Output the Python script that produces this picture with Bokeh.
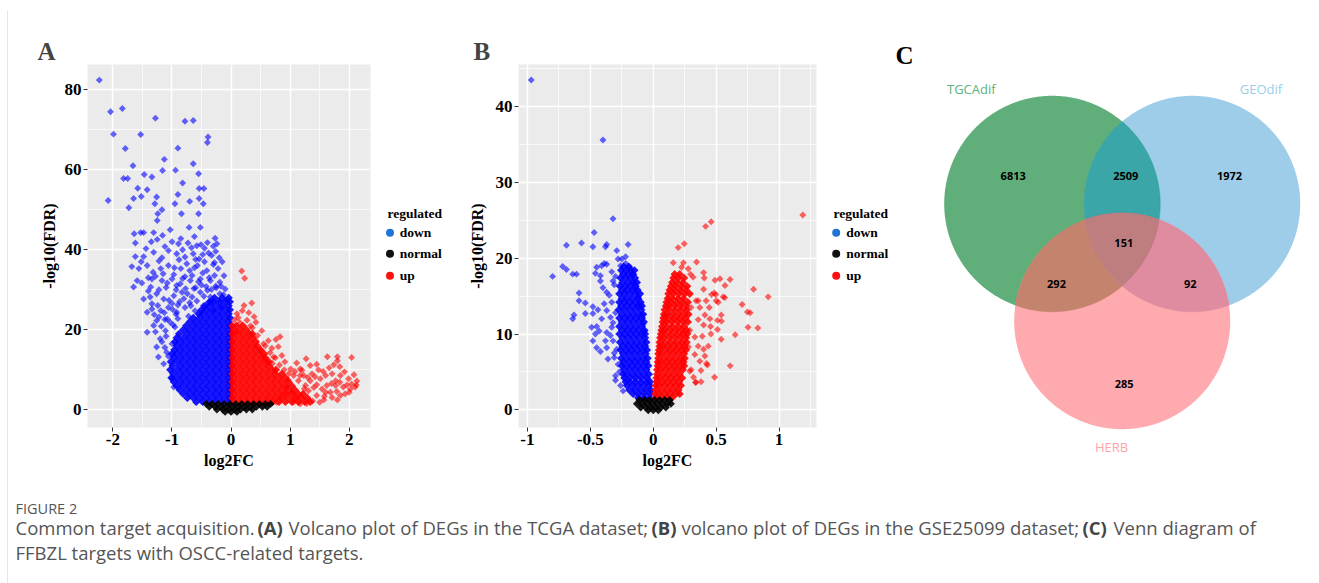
import numpy as np
from bokeh.plotting import figure
from bokeh.layouts import row, column
from bokeh.models import Range1d, FixedTicker, CustomJSTickFormatter
from bokeh.core.properties import value
from bokeh.embed import file_html
from bokeh.resources import INLINE

SERIF = "Liberation Serif"
SANS = "Open Sans"

# ======================= Panel A (TCGA) =======================
A_xticks = [-2, -1, 0, 1, 2]
A_yticks = [0, 20, 40, 60, 80]

A_down_x = [-2.23,-2.04,-1.84,-1.99,-1.79,-2.08,-1.73,-1.66,-1.75,-1.82,-1.65,-1.53,-1.58,-1.52,-1.47,
            -1.42,-1.34,-1.28,-1.26,-1.29,-1.24,-1.25,-1.17,-1.13,-1.16,-0.94,-0.90,-0.78,-0.64,-0.64,
            -0.82,-0.90,-0.95,-0.84,-0.70,-0.55,-0.54,-0.54,-0.47,-0.46,-0.55,-0.39,-0.40,
            -1.64,-1.53,-1.48,-1.62,-1.31,-1.16,-1.03,-0.71,-0.62,-0.52,-0.27,-0.24,-1.35,-1.00,-0.89,
            -0.73,-0.51,-0.45,-0.38,-1.62,-1.48,-1.31,-1.17,-1.06,-0.92,-0.78,-0.64,-0.54,-0.33,-1.68,
            -1.56,-1.42,-1.32,-1.19,-1.06,-0.85,-0.70,-0.57,-0.41,-0.22,-1.59,-1.51,-1.34,-1.17,-1.00,
            -0.86,-0.69,-0.52,-0.35,-0.19,-1.48,-1.37,-1.26,-1.14,-0.97,-0.83,-0.66,-0.52,-0.35,-0.19,
            -1.34,-1.19,-1.06,-0.92,-0.78,-0.61,-0.47,-0.30,-0.16,-1.42,-1.31,-1.26,-1.20,-1.11,-1.03,
            -1.26,-1.23,-1.14,-1.09,-1.00,
            -1.65,-1.42,-1.36,-1.34,-1.22,-0.97,-1.00,-0.12,-0.10,-0.15,-0.28,-0.25,-0.08,-0.42,-0.60,
            -0.77,-0.93,-1.10,-0.45,-0.62,-0.88,-1.22,-1.40,-0.97,-0.78,-0.30,-0.58,-0.82,-0.70,-0.87,
            -1.00,-0.90,-1.12,-0.95,-0.40,-0.26,-0.58,-0.72]
A_down_y = [82.4,74.5,75.3,68.9,65.3,52.3,50.5,61.0,57.8,57.8,52.8,68.8,55.4,53.3,58.8,
            55.0,58.2,72.9,53.2,51.5,49.0,47.3,50.0,62.6,59.8,59.9,65.4,72.1,72.3,61.5,
            56.7,53.8,51.5,49.0,52.1,59.0,55.3,52.8,51.5,55.3,49.0,68.2,66.8,
            44.0,44.3,44.3,41.7,44.3,43.6,45.0,45.6,43.3,45.6,42.9,41.5,42.0,42.0,41.5,
            41.7,41.3,40.4,39.2,38.3,38.3,39.4,38.0,39.8,39.0,38.2,39.0,37.7,38.6,35.8,
            35.3,36.1,34.4,35.3,36.1,35.3,34.8,36.1,34.8,35.3,32.3,31.7,32.7,32.3,32.7,
            31.5,32.3,32.7,32.3,31.9,27.7,28.2,29.0,27.7,28.5,29.4,28.2,29.4,28.2,29.0,
            25.2,24.8,25.6,24.4,25.6,24.8,26.0,24.8,25.6,19.4,21.1,22.3,17.8,19.8,21.9,
            15.7,13.2,11.5,14.4,16.5,
            30.7,24.4,30.7,26.5,23.2,5.7,7.8,33.5,30.2,37.0,36.8,30.5,27.5,30.8,30.5,
            30.3,30.0,30.6,37.0,35.5,37.5,37.2,33.0,33.8,33.3,40.9,41.0,40.0,26.8,27.0,
            26.6,22.8,22.6,20.7,29.9,30.9,27.2,23.4]

# semi-dense zone of down-regulated genes (y 13-43)
A_down_mid_x = [-1.28,-1.18,-1.08,-0.98,-0.93,-0.99,-1.13,-1.24,-1.05,-0.90,
                -0.80,-0.68,-0.74,-0.63,-0.50,-0.46,-0.38,-0.33,-0.22,-0.17,
                -0.13,-0.28,-0.37,-0.48,-0.55,-0.66,-0.82,-0.92,-1.08,-1.22,
                -1.28,-1.15,-0.96,-0.75,-0.60,-0.48,-0.30,-0.20,-0.26,-0.40,
                -0.67,-0.85,-1.12,-1.25,-1.44,-1.52,-1.40,-1.30,-1.17,-1.12,
                -1.06,-1.10]
A_down_mid_y = [19.5,20.9,22.7,21.2,23.9,25.1,24.3,26.1,27.4,26.2,
                27.8,26.0,29.0,30.3,31.2,28.4,26.9,30.1,27.3,30.9,
                28.8,33.6,33.0,34.2,32.0,33.6,32.8,31.1,31.7,30.0,
                33.4,34.0,35.5,36.5,37.6,38.8,36.3,38.0,39.6,41.8,
                40.5,42.8,40.8,42.6,40.3,37.0,29.7,23.8,17.0,15.6,
                13.4,18.4]

# dense core of down-regulated genes: one y value per row, x values per row
A_down_core_rows_y = [2, 3, 4, 5, 6, 7, 8, 9, 10, 11, 12, 13, 14, 15, 16, 17, 18, 19, 20,
                      21, 22, 23, 24, 25, 26, 27, 28]
A_down_core_rows_x = [
    [-0.59,-0.48,-0.37,-0.26,-0.15,-0.04],
    [-0.74,-0.64,-0.53,-0.42,-0.31,-0.20,-0.09,-0.02],
    [-0.81,-0.70,-0.59,-0.48,-0.37,-0.26,-0.15,-0.04],
    [-0.87,-0.75,-0.64,-0.53,-0.42,-0.31,-0.20,-0.09,-0.02],
    [-0.92,-0.81,-0.70,-0.59,-0.48,-0.37,-0.26,-0.15,-0.04],
    [-0.97,-0.86,-0.75,-0.64,-0.53,-0.42,-0.31,-0.20,-0.09,-0.02],
    [-1.01,-0.92,-0.81,-0.70,-0.59,-0.48,-0.37,-0.26,-0.15,-0.04],
    [-0.98,-0.86,-0.75,-0.64,-0.53,-0.42,-0.31,-0.20,-0.09,-0.02],
    [-1.03,-0.92,-0.81,-0.70,-0.59,-0.48,-0.37,-0.26,-0.15,-0.04],
    [-0.99,-0.86,-0.75,-0.64,-0.53,-0.42,-0.31,-0.20,-0.09,-0.02],
    [-1.02,-0.92,-0.81,-0.70,-0.59,-0.48,-0.37,-0.26,-0.15,-0.04],
    [-0.97,-0.86,-0.75,-0.64,-0.53,-0.42,-0.31,-0.20,-0.09,-0.02],
    [-1.00,-0.92,-0.81,-0.70,-0.59,-0.48,-0.37,-0.26,-0.15,-0.04],
    [-0.96,-0.86,-0.75,-0.64,-0.53,-0.42,-0.31,-0.20,-0.09,-0.02],
    [-0.92,-0.81,-0.70,-0.59,-0.48,-0.37,-0.26,-0.15,-0.04],
    [-0.95,-0.86,-0.75,-0.64,-0.53,-0.42,-0.31,-0.20,-0.09,-0.02],
    [-0.92,-0.81,-0.70,-0.59,-0.48,-0.37,-0.26,-0.15,-0.04],
    [-0.88,-0.75,-0.64,-0.53,-0.42,-0.31,-0.20,-0.09,-0.02],
    [-0.81,-0.70,-0.59,-0.48,-0.37,-0.26,-0.15,-0.04],
    [-0.76,-0.64,-0.53,-0.42,-0.31,-0.20,-0.09,-0.02],
    [-0.70,-0.59,-0.48,-0.37,-0.26,-0.15,-0.04],
    [-0.64,-0.53,-0.42,-0.31,-0.20,-0.09,-0.02],
    [-0.55,-0.48,-0.37,-0.26,-0.15,-0.04],
    [-0.50,-0.42,-0.31,-0.20,-0.09,-0.02],
    [-0.44,-0.37,-0.26,-0.15,-0.04],
    [-0.36,-0.31,-0.20,-0.09,-0.02],
    [-0.28,-0.15,-0.04],
]

A_up_x = [0.18,0.23,0.35,0.22,0.19,0.30,0.39,0.42,0.09,0.83,0.76,0.63,0.69,0.80,0.55,
          0.49,0.72,0.86,0.91,1.11,1.27,1.34,1.45,1.63,1.80,1.80,2.04,1.84,1.01,1.17,
          1.23,1.37,1.51,1.60,1.71,1.77,1.99,2.13,2.10,2.02,1.90,1.79,1.85,1.93,1.71,
          1.57,1.45,1.28,1.17,1.11,1.62,1.68,1.45,1.34,1.26,1.14,1.06,0.97,1.17,1.31,
          1.40,1.54,0.94,1.03,0.91,0.83,0.66,0.77,1.77,2.04,1.85,1.60,1.06,0.06,0.12,
          0.15,0.27,0.33,0.10,
          0.45,0.52,0.36,0.58,0.66,0.75,0.70,0.82,0.90,0.98,1.08,1.20,1.30,1.42,1.48,
          1.56,1.66,1.74,1.92,2.08,1.96,1.84,1.70,1.58,1.50,1.38,1.80,2.00,2.12,1.24]
A_up_y = [34.7,32.9,26.7,26.1,24.8,24.3,23.3,21.9,19.6,18.3,17.6,17.3,15.4,15.8,16.5,
          14.8,13.2,13.6,12.0,11.7,12.8,11.1,11.4,13.3,13.3,12.3,13.1,10.8,10.2,10.2,
          8.6,9.0,7.8,8.6,9.0,7.3,7.8,7.2,5.7,5.2,5.7,4.6,3.6,4.0,3.1,
          2.5,3.6,1.6,1.5,3.1,6.1,4.4,6.3,7.3,6.1,7.3,8.6,7.5,8.6,4.8,
          5.6,5.2,5.7,4.4,4.0,3.1,1.9,1.9,6.1,6.5,8.6,4.4,1.9,22.5,23.0,
          21.8,22.4,21.0,24.0,
          18.6,19.8,20.5,16.0,14.3,13.0,11.6,11.2,10.0,9.1,9.6,9.9,8.1,8.3,10.0,
          9.6,10.5,11.3,9.5,8.8,6.2,6.9,6.6,3.4,1.9,2.2,2.5,4.4,6.2,5.3]

A_up_core_rows_y = [2, 3, 4, 5, 6, 7, 8, 9, 10, 11, 12, 13, 14, 15, 16, 17, 18, 19, 20, 21]
A_up_core_rows_x = [
    [0.04,0.15,0.26,0.37,0.48,0.59,0.70,0.81,0.92,1.03,1.14,1.25,1.34],
    [0.02,0.09,0.20,0.31,0.42,0.53,0.64,0.75,0.86,0.97,1.08,1.19,1.29],
    [0.04,0.15,0.26,0.37,0.48,0.59,0.70,0.81,0.92,1.03,1.14,1.22],
    [0.02,0.09,0.20,0.31,0.42,0.53,0.64,0.75,0.86,0.97,1.08],
    [0.04,0.15,0.26,0.37,0.48,0.59,0.70,0.81,0.92,1.03],
    [0.02,0.09,0.20,0.31,0.42,0.53,0.64,0.75,0.86,0.97],
    [0.04,0.15,0.26,0.37,0.48,0.59,0.70,0.81,0.92],
    [0.02,0.09,0.20,0.31,0.42,0.53,0.64,0.75,0.86],
    [0.04,0.15,0.26,0.37,0.48,0.59,0.70,0.76],
    [0.02,0.09,0.20,0.31,0.42,0.53,0.64],
    [0.04,0.15,0.26,0.37,0.48,0.59,0.64],
    [0.02,0.09,0.20,0.31,0.42,0.53,0.58],
    [0.04,0.15,0.26,0.37,0.48,0.56],
    [0.02,0.09,0.20,0.31,0.42,0.50],
    [0.04,0.15,0.26,0.37,0.44],
    [0.02,0.09,0.20,0.31,0.42],
    [0.04,0.15,0.26,0.37],
    [0.02,0.09,0.20,0.31,0.36],
    [0.04,0.15,0.26],
    [0.02,0.09,0.20],
]

A_normal_rows_y = [1.5, 0.8, 0.1, -0.5]
A_normal_rows_x = [
    [-0.42,-0.32,-0.22,-0.12,-0.02,0.08,0.18,0.28,0.38,0.48,0.58,0.67],
    [-0.37,-0.27,-0.17,-0.07,0.03,0.13,0.23,0.33,0.43,0.53,0.61],
    [-0.24,-0.14,-0.04,0.06,0.16,0.26,0.36],
    [-0.10,0.00,0.10],
]

# ======================= Panel B (GSE25099) =======================
B_xticks = [-1, -0.5, 0, 0.5, 1]
B_yticks = [0, 10, 20, 30, 40]

B_down_x = [-0.97,-0.40,-0.32,-0.47,-0.69,-0.57,-0.48,-0.38,-0.37,-0.20,-0.29,-0.28,-0.25,-0.22,-0.72,
            -0.69,-0.64,-0.61,-0.80,-0.45,-0.41,-0.39,-0.37,-0.46,-0.42,-0.42,-0.40,-0.37,-0.35,-0.32,
            -0.59,-0.59,-0.54,-0.48,-0.44,-0.48,-0.54,-0.63,-0.64,-0.39,-0.37,-0.34,-0.41,-0.49,-0.45,
            -0.46,-0.43,-0.48,-0.45,-0.42,-0.37,-0.36,-0.31,-0.30,-0.30,-0.34,-0.38,-0.32,-0.33,-0.37,
            -0.31,-0.33,-0.30,-0.32,-0.29,-0.31,-0.28,-0.27,-0.26,-0.24,-0.33,-0.30,-0.26,-0.22,-0.19,
            -0.17,-0.15,-0.14,-0.12,-0.11,-0.09,-0.08,-0.07]
B_down_y = [43.5,35.6,25.2,23.4,21.7,22.0,21.5,21.5,21.8,21.8,21.0,19.9,19.9,20.2,18.9,
            18.5,17.9,17.9,17.6,18.8,19.0,19.3,19.2,18.0,17.7,17.0,16.1,15.5,15.1,17.0,
            15.4,14.4,14.1,13.6,13.2,12.7,12.7,12.5,12.0,14.0,13.1,12.2,12.0,10.9,11.0,
            10.0,10.4,9.1,8.2,7.7,8.2,6.7,6.9,4.5,3.9,9.8,9.1,9.1,10.9,10.2,
            16.5,14.2,12.8,11.5,8.0,7.5,6.0,5.0,3.2,2.5,18.2,17.6,19.0,19.3,18.8,
            17.9,16.8,15.9,14.9,13.8,12.5,11.3,10.3]

B_down_core_rows_y = [1.6, 2.1, 2.6, 3.2, 3.7, 4.2, 4.7, 5.3, 5.8, 6.3, 6.8, 7.4, 7.9, 8.4, 8.9,
                      9.5, 10.0, 10.5, 11.0, 11.6, 12.1, 12.6, 13.2, 13.7, 14.2, 14.7, 15.3,
                      15.8, 16.3, 16.8, 17.4, 17.9, 18.4, 18.9]
B_down_core_rows_x = [
    [-0.12,-0.075,-0.03],
    [-0.16,-0.115,-0.07,-0.025],
    [-0.19,-0.145,-0.10,-0.055,-0.02],
    [-0.21,-0.165,-0.12,-0.075,-0.03],
    [-0.22,-0.19,-0.145,-0.10,-0.055,-0.025],
    [-0.23,-0.185,-0.14,-0.095,-0.05],
    [-0.24,-0.21,-0.165,-0.12,-0.075,-0.035],
    [-0.235,-0.19,-0.145,-0.10,-0.055],
    [-0.25,-0.21,-0.165,-0.12,-0.075,-0.04],
    [-0.24,-0.19,-0.145,-0.10,-0.055],
    [-0.255,-0.215,-0.17,-0.125,-0.08,-0.045],
    [-0.24,-0.195,-0.15,-0.105,-0.06],
    [-0.26,-0.215,-0.17,-0.125,-0.08,-0.05],
    [-0.245,-0.20,-0.155,-0.11,-0.065],
    [-0.265,-0.22,-0.175,-0.13,-0.085,-0.055],
    [-0.245,-0.20,-0.155,-0.11,-0.065],
    [-0.27,-0.225,-0.18,-0.135,-0.09,-0.065],
    [-0.25,-0.205,-0.16,-0.115,-0.07],
    [-0.27,-0.225,-0.18,-0.135,-0.09],
    [-0.25,-0.205,-0.16,-0.115,-0.075],
    [-0.27,-0.225,-0.18,-0.135,-0.09],
    [-0.25,-0.205,-0.16,-0.115,-0.08],
    [-0.275,-0.23,-0.185,-0.14,-0.095],
    [-0.255,-0.21,-0.165,-0.12,-0.09],
    [-0.27,-0.23,-0.185,-0.14,-0.10],
    [-0.25,-0.21,-0.165,-0.12],
    [-0.27,-0.23,-0.185,-0.14,-0.105],
    [-0.25,-0.21,-0.165,-0.125],
    [-0.265,-0.22,-0.18,-0.14],
    [-0.245,-0.20,-0.16,-0.13],
    [-0.26,-0.22,-0.18,-0.145],
    [-0.24,-0.20,-0.16],
    [-0.255,-0.215,-0.175,-0.15],
    [-0.235,-0.195],
]

B_up_x = [1.188,0.46,0.416,0.246,0.198,0.159,0.24,0.344,0.225,0.278,0.296,0.317,0.40,0.405,0.49,
          0.53,0.61,0.57,0.797,0.913,0.497,0.568,0.706,0.748,0.77,0.753,0.831,0.651,0.54,0.51,
          0.455,0.458,0.51,0.54,0.611,0.487,0.43,0.379,0.336,0.38,0.41,0.40,0.357,0.39,0.437,
          0.33,0.37,0.29,0.32,0.30,0.463,0.50,0.445,0.41,0.45,0.40,0.357,0.357,0.42,0.40,
          0.34,0.30,0.37,0.29,0.33,0.28,0.484,0.516,0.556,0.542,0.339,0.423]
B_up_y = [25.7,24.8,24.2,21.9,21.4,19.4,19.4,19.5,18.8,18.6,17.9,17.5,18.1,17.4,17.1,
          17.3,17.2,16.4,15.9,14.9,15.2,14.8,13.9,12.9,12.8,10.9,10.8,9.9,12.5,11.8,
          11.0,10.0,10.6,9.3,5.8,4.3,5.9,5.2,3.6,3.7,7.1,8.0,8.4,9.7,8.4,
          7.3,6.4,5.1,4.3,5.3,15.2,14.4,13.5,12.5,12.0,11.2,11.9,14.4,14.4,15.9,
          14.4,13.5,13.5,10.5,9.6,8.3,15.4,14.2,14.9,11.7,3.65,6.1]

B_up_core_rows_y = [1.6, 2.1, 2.6, 3.2, 3.7, 4.2, 4.7, 5.3, 5.8, 6.3, 6.8, 7.4, 7.9, 8.4, 8.9,
                    9.5, 10.0, 10.5, 11.0, 11.6, 12.1, 12.6, 13.2, 13.7, 14.2, 14.7, 15.3,
                    15.8, 16.3, 16.8, 17.4, 17.9]
B_up_core_rows_x = [
    [0.02,0.065,0.11,0.15],
    [0.015,0.045,0.09,0.135,0.18,0.21],
    [0.02,0.065,0.11,0.155,0.20],
    [0.02,0.045,0.09,0.135,0.18,0.22],
    [0.025,0.07,0.115,0.16,0.205],
    [0.025,0.05,0.095,0.14,0.185,0.23],
    [0.03,0.075,0.12,0.165,0.21],
    [0.03,0.055,0.10,0.145,0.19,0.235],
    [0.035,0.08,0.125,0.17,0.215,0.245],
    [0.035,0.06,0.105,0.15,0.195,0.24],
    [0.04,0.085,0.13,0.175,0.22,0.25],
    [0.04,0.065,0.11,0.155,0.20,0.245],
    [0.045,0.09,0.135,0.18,0.225,0.26],
    [0.05,0.075,0.12,0.165,0.21,0.25],
    [0.05,0.095,0.14,0.185,0.23,0.265],
    [0.055,0.08,0.125,0.17,0.215,0.26],
    [0.06,0.10,0.145,0.19,0.235,0.27],
    [0.065,0.09,0.135,0.18,0.225,0.265],
    [0.07,0.11,0.155,0.20,0.245],
    [0.075,0.10,0.145,0.19,0.235,0.275],
    [0.08,0.12,0.165,0.21,0.255],
    [0.085,0.11,0.155,0.20,0.245,0.28],
    [0.09,0.13,0.175,0.22,0.265],
    [0.10,0.125,0.17,0.215,0.26],
    [0.105,0.14,0.185,0.23,0.275],
    [0.115,0.15,0.195,0.24],
    [0.12,0.16,0.205,0.25,0.29],
    [0.13,0.17,0.215,0.26],
    [0.14,0.18,0.225,0.27],
    [0.15,0.19,0.235],
    [0.16,0.20,0.245],
    [0.17,0.21],
]

B_normal_rows_y = [1.3, 0.8, 0.3, -0.05]
B_normal_rows_x = [
    [-0.11,-0.07,-0.03,0.01,0.05,0.09,0.13],
    [-0.13,-0.09,-0.05,-0.01,0.03,0.07,0.11,0.14],
    [-0.10,-0.06,-0.02,0.02,0.06,0.10],
    [-0.04,0.00,0.04],
]

legend_title = "regulated"
legend_labels = ["down", "normal", "up"]
legend_colors = ["#1f74d6", "#111111", "#ff1010"]

# ======================= Panel C (Venn) =======================
venn_sets = ["TGCAdif", "GEOdif", "HERB"]
venn_counts = [6813, 2509, 1972, 151, 292, 92, 285]

caption_title = "FIGURE 2"


def flatten(rows_y, rows_x):
    xs, ys = [], []
    for yv, xr in zip(rows_y, rows_x):
        for xv in xr:
            xs.append(xv)
            ys.append(yv)
    return xs, ys


def blank(width, x0, height, y0):
    """Axis-less figure whose data coordinates equal page pixels."""
    f = figure(width=width, height=height, x_range=Range1d(x0, x0 + width),
               y_range=Range1d(y0 + height, y0), output_backend="svg", toolbar_location=None,
               min_border=0, frame_align=False, x_axis_location=None, y_axis_location=None)
    f.grid.visible = False
    f.outline_line_color = None
    f.background_fill_color = "white"
    return f


def style_axis(ax, standoff):
    ax.axis_line_color = None
    ax.major_tick_line_color = "#333333"
    ax.major_tick_out = 4
    ax.major_tick_in = 0
    ax.minor_tick_out = 0
    ax.minor_tick_in = 0
    ax.major_label_text_font = SERIF
    ax.major_label_text_font_style = "bold"
    ax.major_label_text_font_size = "17px"
    ax.major_label_text_color = "black"
    ax.major_label_standoff = 2
    ax.axis_label_text_font = SERIF
    ax.axis_label_text_font_style = "bold"
    ax.axis_label_text_font_size = "16px"
    ax.axis_label_text_color = "black"
    ax.axis_label_standoff = standoff
    ax.formatter = CustomJSTickFormatter(code="return tick.toString();")


def volcano(letter, letter_offset, frame_w, xr, yr, xt, xminor, yt, yminor,
            down, down_core, up, up_core, normal, border_left, ylab_standoff):
    p = figure(frame_width=frame_w, frame_height=363, x_range=Range1d(*xr), y_range=Range1d(*yr),
               output_backend="svg", toolbar_location=None, title=letter, frame_align=False,
               min_border_left=border_left, min_border_right=14,
               min_border_top=54, min_border_bottom=53)
    p.title.align = "left"
    p.title.offset = letter_offset
    p.title.standoff = 0
    p.title.text_font = SERIF
    p.title.text_font_size = "25px"
    p.title.text_font_style = "bold"
    p.background_fill_color = "#EBEBEB"
    p.border_fill_color = "white"
    p.outline_line_color = None

    p.xaxis.ticker = FixedTicker(ticks=xt, minor_ticks=xminor)
    p.yaxis.ticker = FixedTicker(ticks=yt, minor_ticks=yminor)
    for g in (p.xgrid, p.ygrid):
        g.grid_line_color = "white"
        g.grid_line_width = 1.4
        g.minor_grid_line_color = "white"
        g.minor_grid_line_width = 0.7
    style_axis(p.xaxis, 4)
    style_axis(p.yaxis, ylab_standoff)
    p.xaxis.axis_label = "log2FC"
    p.yaxis.axis_label = "-log10(FDR)"

    mk = dict(marker="square", angle=np.pi / 4, line_color=None)
    p.scatter(down[0], down[1], fill_color="#0000ff", fill_alpha=0.6, size=4.9, **mk)
    p.scatter(down_core[0], down_core[1], fill_color="#0000ff", fill_alpha=0.9, size=5.8, **mk)
    p.scatter(up[0], up[1], fill_color="#ff0000", fill_alpha=0.6, size=4.9, **mk)
    p.scatter(up_core[0], up_core[1], fill_color="#ff0000", fill_alpha=0.9, size=5.8, **mk)
    p.scatter(normal[0], normal[1], fill_color="#000000", fill_alpha=0.9, size=5.6, **mk)
    return p


def legend_panel(x0, width, title_x, dot_x, label_x):
    f = blank(width, x0, 470, 10)
    item_y = [232.3, 253.3, 275.3]
    f.text(x=[title_x], y=[213.3], text=[legend_title], text_font=value(SERIF),
           text_font_style="bold", text_font_size="13.5px", text_color="black",
           text_align="left", text_baseline="middle")
    f.scatter(x=[dot_x] * 3, y=item_y, marker="circle", size=8, fill_color=legend_colors,
              line_color=None)
    f.text(x=[label_x] * 3, y=item_y, text=legend_labels, text_font=value(SERIF),
           text_font_style="bold", text_font_size="13.5px", text_color="black",
           text_align="left", text_baseline="middle")
    return f


A_down_all = (A_down_x + A_down_mid_x, A_down_y + A_down_mid_y)
pA = volcano("A", -50, 283, (-2.43, 2.36), (-4.4, 86.3), A_xticks, [-1.5, -0.5, 0.5, 1.5],
             A_yticks, [10, 30, 50, 70],
             A_down_all, flatten(A_down_core_rows_y, A_down_core_rows_x),
             (A_up_x, A_up_y), flatten(A_up_core_rows_y, A_up_core_rows_x),
             flatten(A_normal_rows_y, A_normal_rows_x), 79, 4)
legA = legend_panel(384, 76, 387, 389.5, 399.3)
pB = volcano("B", -45, 298, (-1.071, 1.297), (-2.33, 45.55), B_xticks,
             [-0.75, -0.25, 0.25, 0.75, 1.25], B_yticks, [5, 15, 25, 35, 45],
             (B_down_x, B_down_y), flatten(B_down_core_rows_y, B_down_core_rows_x),
             (B_up_x, B_up_y), flatten(B_up_core_rows_y, B_up_core_rows_x),
             flatten(B_normal_rows_y, B_normal_rows_x), 58, 7)
legB = legend_panel(830, 60, 833, 835.7, 845.7)

# ---------------- Venn ----------------
pv = blank(429, 890, 470, 10)

centers = [(1051.7, 203.3), (1191.7, 203.3), (1121.7, 320.7)]
RAD = 108.0
single_cols = ["#60AF7A", "#9DCDE9", "#FFAAAF"]


def circle_outline(i):
    t = np.linspace(0, 2 * np.pi, 721)
    return list(centers[i][0] + RAD * np.cos(t)), list(centers[i][1] + RAD * np.sin(t))


def intersection(idx):
    t = np.linspace(0, 2 * np.pi, 2881)
    pts = []
    for i in idx:
        cx, cy = centers[i]
        px = cx + RAD * np.cos(t)
        py = cy + RAD * np.sin(t)
        m = np.ones_like(t, dtype=bool)
        for j in idx:
            if j != i:
                m &= (px - centers[j][0]) ** 2 + (py - centers[j][1]) ** 2 <= RAD ** 2 + 1e-6
        pts.extend(zip(px[m], py[m]))
    pts = np.array(pts)
    c = pts.mean(axis=0)
    order = np.argsort(np.arctan2(pts[:, 1] - c[1], pts[:, 0] - c[0]))
    return list(pts[order, 0]), list(pts[order, 1])


for i, col in enumerate(single_cols):
    xs, ys = circle_outline(i)
    pv.patch(xs, ys, fill_color=col, line_color=None)
for idx, col in [((0, 1), "#3AA6A7"), ((0, 2), "#C4836C"), ((1, 2), "#E08CA0"), ((0, 1, 2), "#BE7E80")]:
    xs, ys = intersection(idx)
    pv.patch(xs, ys, fill_color=col, line_color=col, line_width=0.5)

count_pos = [(1012.7, 175), (1125.3, 175), (1229, 175), (1123.3, 242.3),
             (1056, 283.7), (1189.7, 283.7), (1123.7, 383.3)]
pv.text(x=[p[0] for p in count_pos], y=[p[1] for p in count_pos],
        text=[str(v) for v in venn_counts], text_font=value(SANS), text_font_style="bold",
        text_font_size="11px", text_color="black", text_align="center", text_baseline="middle")
pv.text(x=[970.8, 1260.5, 1111], y=[88.3, 88.3, 446.7], text=venn_sets,
        text_font=value(SANS), text_font_size="13px",
        text_color=["#5DB378", "#9BCDEA", "#FFA3A8"], text_align="center", text_baseline="middle")
pv.text(x=[895], y=[55], text=["C"], text_font=value(SERIF), text_font_style="bold",
        text_font_size="25px", text_color="black", text_align="left", text_baseline="middle")

# ---------------- Caption ----------------
pc = blank(1311, 8, 103, 480)
pc.text(x=[15], y=[508], text=[caption_title], text_font=value(SANS), text_font_size="14.5px",
        text_color="#555555", text_baseline="middle")
cap_norm = ["Common target acquisition.", "Volcano plot of DEGs in the TCGA dataset;",
            "volcano plot of DEGs in the GSE25099 dataset;", "Venn diagram of",
            "FFBZL targets with OSCC-related targets."]
pc.text(x=[15, 288, 681, 1113, 15], y=[526.5, 526.5, 526.5, 526.5, 551.5], text=cap_norm,
        text_font=value(SANS), text_font_size="18.5px", text_color="#555555", text_baseline="middle")
pc.text(x=[257, 651, 1082], y=[526.5, 526.5, 526.5], text=["(A)", "(B)", "(C)"],
        text_font=value(SANS), text_font_size="18.5px", text_font_style="bold",
        text_color="#444444", text_baseline="middle")

# ---------------- thin frame lines of the figure box ----------------
top_strip = blank(1319, 0, 10, 0)
top_strip.segment(x0=[7], y0=[9.5], x1=[1319], y1=[9.5], line_color="#cccccc", line_width=1)
left_strip = blank(8, 0, 573, 10)
left_strip.segment(x0=[7.5], y0=[10], x1=[7.5], y1=[583], line_color="#cccccc", line_width=1)

layout = column(top_strip, row(left_strip, column(row(pA, legA, pB, legB, pv), pc)))

open("out.html", "w").write(file_html(layout, INLINE))
